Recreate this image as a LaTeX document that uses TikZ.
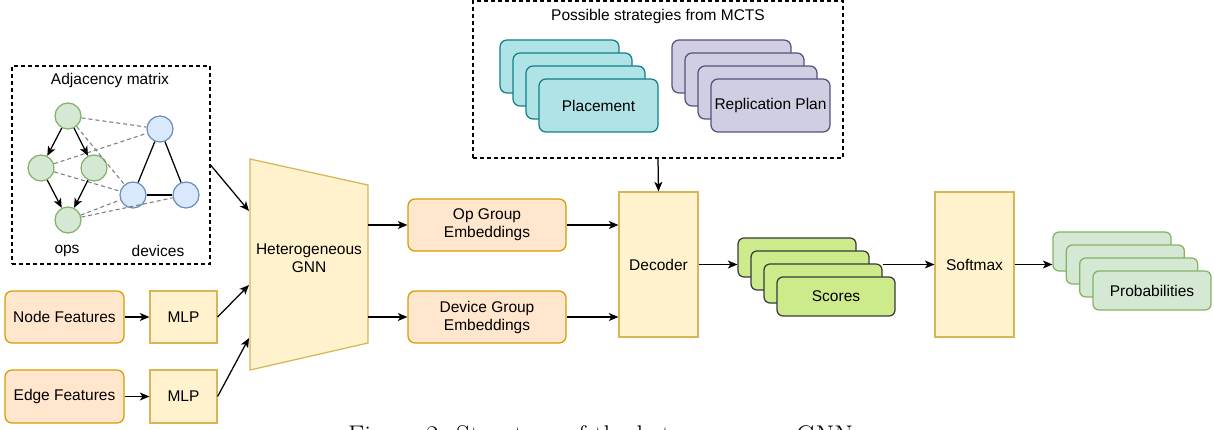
\documentclass[tikz,border=0pt]{standalone}
\usepackage{fontspec}
\newfontfamily\hel{Liberation Sans}
\usetikzlibrary{arrows.meta,calc}
\definecolor{gfill}{HTML}{D5E8D4}\definecolor{gdraw}{HTML}{82B366}
\definecolor{bfill}{HTML}{DAE8FC}\definecolor{bdraw}{HTML}{6C8EBF}
\definecolor{ofill}{HTML}{FFE6CC}\definecolor{odraw}{HTML}{D79B00}
\definecolor{yfill}{HTML}{FFF2CC}\definecolor{ydraw}{HTML}{D6B656}
\definecolor{tfill}{HTML}{B0E3E6}\definecolor{tdraw}{HTML}{0E8088}
\definecolor{pfill}{HTML}{D0CEE2}\definecolor{pdraw}{HTML}{56517E}
\definecolor{sfill}{HTML}{CDEB8B}\definecolor{sdraw}{HTML}{36393D}
\definecolor{dgray}{HTML}{808080}
\begin{document}
\begin{tikzpicture}[x=1pt,y=-1pt,
  every node/.style={font=\hel\fontsize{15.5}{18}\selectfont, inner sep=0pt},
  lw/.style={line width=1.25pt},
  arr/.style={lw, -{Stealth[length=9.5pt,width=8pt,inset=2.5pt]}},
  dashbox/.style={draw, line width=1.1pt, dash pattern=on 4pt off 3pt, minimum width=#1},
  opnode/.style={circle, draw=gdraw, fill=gfill, lw, minimum size=26pt},
  devnode/.style={circle, draw=bdraw, fill=bfill, lw, minimum size=26pt},
  orbox/.style={draw=odraw, fill=ofill, lw, rounded corners=7pt, align=center},
  ybox/.style={draw=ydraw, fill=yfill, lw, align=center},
  card/.style={lw, rounded corners=7pt, minimum width=119pt, minimum height=53pt},
  tcard/.style={card, draw=tdraw, fill=tfill},
  pcard/.style={card, draw=pdraw, fill=pfill},
  scard/.style={lw, rounded corners=6pt, minimum width=118pt, minimum height=39pt, draw=sdraw, fill=sfill},
  prcard/.style={lw, rounded corners=6pt, minimum width=118pt, minimum height=39pt, draw=gdraw, fill=gfill},
  gline/.style={draw=dgray, line width=1.1pt, dash pattern=on 4pt off 3pt},
]
\useasboundingbox (0,0) rectangle (1214,430);
\clip (0,0) rectangle (1214,430);

% Adjacency box
\node[dashbox=198pt, minimum height=198pt] (adj) at (111,165) {};
\node (adjt) at (110,80) {Adjacency matrix};
\node[opnode] (o1) at (68,116) {};
\node[opnode] (o2) at (41,168) {};
\node[opnode] (o3) at (94,168) {};
\node[opnode] (o4) at (68,220) {};
\node[devnode] (d1) at (160,129) {};
\node[devnode] (d2) at (133,195) {};
\node[devnode] (d3) at (186,195) {};
\node (opsl) at (67,251) {ops};
\node (devl) at (158,251) {devices};
\draw[gline] (o1) -- (d1);
\draw[gline] (o1) -- (d2);
\draw[gline] (o2) -- (d1);
\draw[gline] (o2) -- (d2);
\draw[gline] (o4) -- (d2);
\draw[gline] (o4) -- (d3);
\draw[lw] (d1) -- (d2);
\draw[lw] (d1) -- (d3);
\draw[lw] (d2) -- (d3);
\draw[arr] (o1) -- (o2);
\draw[arr] (o1) -- (o3);
\draw[arr] (o2) -- (o4);
\draw[arr] (o3) -- (o4);

% Features
\node[orbox, minimum width=119pt, minimum height=52pt] (nf) at (64.5,317) {Node Features};
\node[orbox, minimum width=119pt, minimum height=53pt] (ef) at (64.5,396.5) {Edge Features};
\node[ybox, minimum width=67pt, minimum height=52pt] (m1) at (183.5,317) {MLP};
\node[ybox, minimum width=67pt, minimum height=53pt] (m2) at (183.5,396.5) {MLP};

% GNN trapezoid
\draw[ydraw, fill=yfill, lw] (250,159) -- (368,185) -- (368,343) -- (250,370) -- cycle;
\node[align=center] (gnn) at (309,258) {Heterogeneous\\GNN};
\coordinate (gin1) at (249,211);
\coordinate (gin2) at (249,285);
\coordinate (gin3) at (249,338);
\coordinate (gout1) at (368,225);
\coordinate (gout2) at (368,317);

\draw[arr] (adj.east) -- (gin1);
\draw[arr] (nf) -- (m1);
\draw[arr] (ef) -- (m2);
\draw[arr] (m1.east) -- (gin2);
\draw[arr] (m2.east) -- (gin3);

% Embeddings
\node[orbox, minimum width=158pt, minimum height=52pt] (opg) at (487,225) {Op Group\\Embeddings};
\node[orbox, minimum width=158pt, minimum height=52pt] (dvg) at (487,317) {Device Group\\Embeddings};
\draw[arr] (gout1) -- (opg.west);
\draw[arr] (gout2) -- (dvg.west);

% Decoder
\node[ybox, minimum width=79pt, minimum height=145pt] (dec) at (658.5,264.5) {Decoder};
\draw[arr] (opg.east) -- (opg.east -| dec.west);
\draw[arr] (dvg.east) -- (dvg.east -| dec.west);

% MCTS box
\node[dashbox=370pt, minimum height=157pt] (mcts) at (658,79.5) {};
\node (mctst) at (658,16) {Possible strategies from MCTS};
\node[tcard] (pl1) at (559.5,66.5) {};
\node[tcard] (pl2) at (572.5,79.5) {};
\node[tcard] (pl3) at (585.5,92.5) {};
\node[tcard] (pl4) at (598.5,105.5) {Placement};
\node[pcard] (rp1) at (731.5,66.5) {};
\node[pcard] (rp2) at (744.5,79.5) {};
\node[pcard] (rp3) at (757.5,92.5) {};
\node[pcard] (rp4) at (770.5,105.5) {Replication Plan};
\draw[arr] (mcts.south) -- (dec.north);

% Scores
\node[scard] (sc1) at (797,257.5) {};
\node[scard] (sc2) at (810,270.5) {};
\node[scard] (sc3) at (823,283.5) {};
\node[scard] (sc4) at (836,296.5) {Scores};
\draw[arr] (dec.east) -- (dec.east -| sc1.west);

% Softmax
\node[ybox, minimum width=79pt, minimum height=145pt] (sm) at (974.5,264.5) {Softmax};
\draw[arr] (sc3.east |- sm.west) -- (sm.west);

% Probabilities
\node[prcard] (pr1) at (1112,251.5) {};
\node[prcard] (pr2) at (1125.3,264.5) {};
\node[prcard] (pr3) at (1138.7,277.5) {};
\node[prcard] (pr4) at (1152,290.5) {Probabilities};
\draw[arr] (sm.east) -- (sm.east -| pr1.west);

% Caption (cut off at the lower edge, as in the reference)
\node[anchor=north west] (cap) at (348,425) {\resizebox{505pt}{!}{\normalfont\fontsize{23}{26}\selectfont Figure 2: Structure of the heterogeneous GNN}};
\end{tikzpicture}
\end{document}
